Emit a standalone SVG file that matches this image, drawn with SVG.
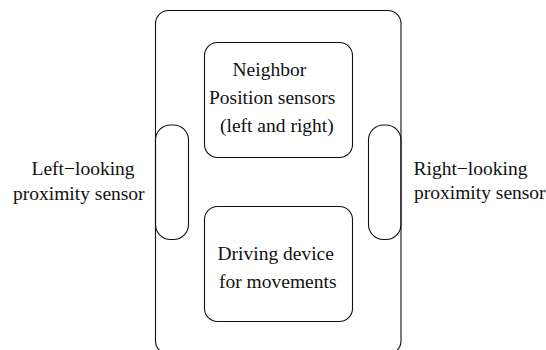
<svg xmlns="http://www.w3.org/2000/svg" width="546" height="350" viewBox="0 0 546 350">
<style>
.b{fill:none;stroke:#111;stroke-width:1.1}
.t{font-family:'Liberation Serif','Times New Roman','DejaVu Serif',serif;font-size:19.5px;fill:#111}
</style>
<rect width="546" height="350" fill="#fff"/>
<g id="body"><rect class="b" x="155.5" y="10.5" width="245.5" height="343.5" rx="13"/></g>
<g id="neighbor-sensors">
<rect class="b" x="204.5" y="42.5" width="148" height="115" rx="13"/>
<text class="t" x="232.5" y="76">Neighbor</text>
<text class="t" x="209" y="104">Position sensors</text>
<text class="t" x="220" y="131.5">(left and right)</text>
</g>
<g id="driving-device">
<rect class="b" x="204.5" y="206.5" width="148" height="115" rx="13"/>
<text class="t" x="217.5" y="259.5">Driving device</text>
<text class="t" x="219" y="287.5">for movements</text>
</g>
<g id="left-sensor">
<rect class="b" x="155.5" y="125" width="33" height="114.5" rx="15"/>
<text class="t" x="31.5" y="174.5">Left−looking</text>
<text class="t" x="13" y="199.5">proximity sensor</text>
</g>
<g id="right-sensor">
<rect class="b" x="368.5" y="125" width="32.5" height="114.5" rx="15"/>
<text class="t" x="413.5" y="174.5">Right−looking</text>
<text class="t" x="414" y="199">proximity sensor</text>
</g>
<g id="connectors"></g>
</svg>
